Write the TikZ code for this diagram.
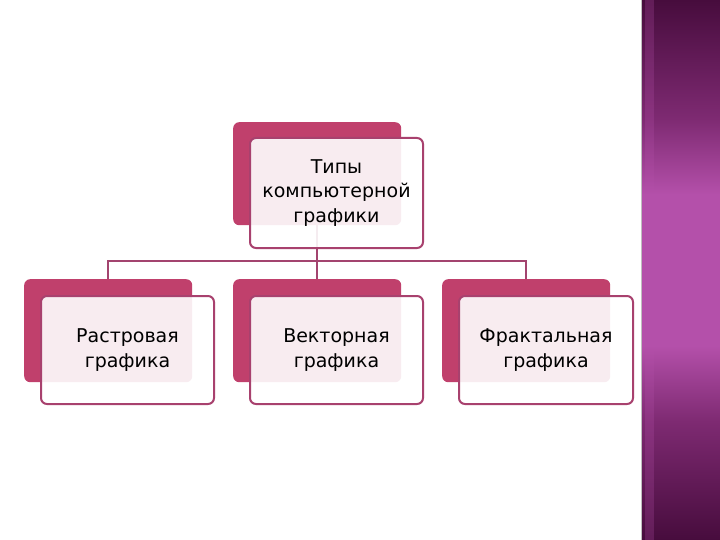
\documentclass[tikz,border=0pt]{standalone}
\usepackage{fontspec}
\setmainfont{DejaVu Sans}
\definecolor{backpink}{HTML}{C0406C}
\definecolor{framepink}{HTML}{A8416E}
\definecolor{linepink}{HTML}{A3446F}
\definecolor{barDark}{HTML}{470C3D}
\definecolor{barMid}{HTML}{B450AA}
\definecolor{barQ}{HTML}{7E2A72}
\pgfdeclareverticalshading{sidebar}{100bp}{color(0bp)=(barDark); color(25bp)=(barDark); color(36bp)=(barQ); color(43bp)=(barMid); color(57bp)=(barMid); color(64bp)=(barQ); color(75bp)=(barDark); color(100bp)=(barDark)}
\begin{document}
\begin{tikzpicture}[x=1pt,y=-1pt,
  backbox/.style={fill=backpink, rounded corners=6pt, inner sep=0pt, anchor=north west, minimum width=168pt, minimum height=103pt},
  frontbox/.style={draw=framepink, line width=2pt, fill=white, fill opacity=0.9, text opacity=1, rounded corners=6pt, anchor=north west, minimum width=173pt, minimum height=108pt},
  conn/.style={draw=linepink, line width=2.2pt, line join=miter},
  lbl/.style={font=\fontsize{19}{24.5}\selectfont, align=center, text=black}]
\useasboundingbox (0,0) rectangle (720,540);
\fill[white] (0,0) rectangle (720,540);
% side bar
\shade[shading=sidebar] (641,0) rectangle (720,540);
\fill[barMid, opacity=0.25] (645,0) rectangle (654,540);
\draw[gray!50, line width=1pt] (641,0) -- (641,540);
% back boxes
\node[backbox] (tback) at (233,122) {};
\node[backbox] (lback) at (24,279) {};
\node[backbox] (mback) at (233,279) {};
\node[backbox] (rback) at (442,279) {};
\coordinate (hy) at (316.5,261);
% connectors
\draw[conn] (lback.north) |- (hy) -| (rback.north);
\draw[conn] (tback.south) -- (mback.north);
% front boxes
\node[frontbox, lbl, minimum height=110pt] (top) at (249,137) {Типы\\компьютерной\\графики};
\node[frontbox, lbl] (left) at (40,295) {Растровая\\графика};
\node[frontbox, lbl] (mid) at (249,295) {Векторная\\графика};
\node[frontbox, lbl, minimum width=174pt] (right) at (458,295) {Фрактальная\\графика};
\end{tikzpicture}
\end{document}
